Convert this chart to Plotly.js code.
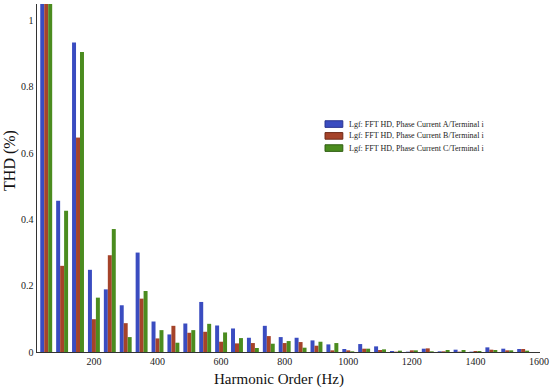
<!DOCTYPE html>
<html>
<head>
<meta charset="utf-8">
<script src="https://cdn.plot.ly/plotly-3.0.1.min.js"></script>
<style>html,body{margin:0;padding:0;background:#fff;}#chart{width:550px;height:389px;}</style>
</head>
<body>
<div id="chart"></div>
<script>
const harmonics = [50,100,150,200,250,300,350,400,450,500,550,600,650,700,750,800,850,900,950,1000,1050,1100,1150,1200,1250,1300,1350,1400,1450,1500,1550];
const phaseA = [1.1,0.456,0.934,0.248,0.189,0.141,0.300,0.092,0.053,0.086,0.151,0.080,0.071,0.043,0.079,0.045,0.043,0.035,0.023,0.009,0.024,0.017,0.003,0.001,0.010,0.002,0.007,0.001,0.014,0.010,0.009];
const phaseB = [1.1,0.260,0.647,0.099,0.292,0.087,0.161,0.041,0.079,0.058,0.061,0.031,0.026,0.027,0.048,0.027,0.030,0.019,0.005,0.005,0.010,0.006,0.001,0.005,0.011,0.002,0.001,0.003,0.007,0.005,0.009];
const phaseC = [1.1,0.426,0.905,0.164,0.371,0.045,0.184,0.066,0.028,0.066,0.085,0.059,0.042,0.012,0.025,0.033,0.013,0.031,0.027,0.002,0.010,0.008,0.004,0.005,0.002,0.006,0.006,0.003,0.006,0.005,0.004];
const seriesNames = ["Lgf: FFT HD, Phase Current A/Terminal i","Lgf: FFT HD, Phase Current B/Terminal i","Lgf: FFT HD, Phase Current C/Terminal i"];
const xTicks = [200,400,600,800,1000,1200,1400,1600];
const yTicks = [0,0.2,0.4,0.6,0.8,1];
const yTickLabels = ["0","0.2","0.4","0.6","0.8","1"];
const xTitle = "Harmonic Order (Hz)";
const yTitle = "THD (%)";

const colors = ["#3a4cc0","#a5432a","#4b8c1f"];
const borders = ["#2a3590","#6e2a18","#2f5e12"];
const serif = "Liberation Serif, Times New Roman, serif";
const traces = [phaseA, phaseB, phaseC].map((v,i)=>({
  type:"bar", x:harmonics, y:v, name:seriesNames[i],
  marker:{color:colors[i], line:{width:0}}
}));

// custom compact legend, like the reference
const legX0 = 0.5726, legX1 = 0.608, legTextX = 0.616;
const legY = [0.655, 0.621, 0.586];
const shapes = [], annotations = [];
seriesNames.forEach((name,i)=>{
  shapes.push({type:"rect", xref:"paper", yref:"paper", x0:legX0, x1:legX1, y0:legY[i]-0.0095, y1:legY[i]+0.0095,
    fillcolor:colors[i], line:{color:borders[i], width:1}});
  annotations.push({xref:"paper", yref:"paper", x:legTextX, y:legY[i], xanchor:"left", yanchor:"middle",
    text:name, showarrow:false, font:{size:8, family:serif, color:"#222"}});
});
// axis titles
annotations.push({xref:"paper", yref:"paper", x:0.481, y:0, yshift:-27, xanchor:"center", yanchor:"middle",
  text:xTitle, showarrow:false, font:{size:15, family:serif, color:"#111"}});
annotations.push({xref:"paper", yref:"paper", x:0, xshift:-27, y:0.549, xanchor:"center", yanchor:"middle",
  textangle:-90, text:yTitle, showarrow:false, font:{size:16, family:serif, color:"#111"}});

const layout = {
  width:550, height:389,
  margin:{l:37, r:10, t:4, b:37},
  paper_bgcolor:"#fff", plot_bgcolor:"#fff",
  barmode:"group", bargap:0.25, bargroupgap:0,
  font:{family:serif, color:"#222", size:10},
  xaxis:{range:[21,1603], tickvals:xTicks, ticktext:xTicks.map(String), showgrid:false, zeroline:false,
    showline:true, linecolor:"#333", linewidth:1, ticks:"", tickfont:{size:10, family:serif}},
  yaxis:{range:[0,1.05], tickvals:yTicks, ticktext:yTickLabels, showgrid:false, zeroline:false,
    showline:true, linecolor:"#333", linewidth:1.5, ticks:"", tickfont:{size:10, family:serif}},
  showlegend:false,
  shapes:shapes, annotations:annotations
};
Plotly.newPlot("chart", traces, layout, {displayModeBar:false, staticPlot:true});
</script>
</body>
</html>
